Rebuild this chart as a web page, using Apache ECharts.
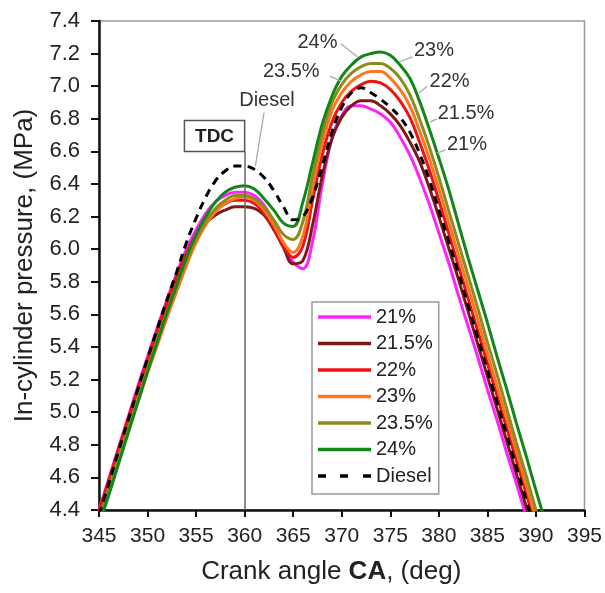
<!DOCTYPE html>
<html>
<head>
<meta charset="utf-8">
<script src="https://cdn.jsdelivr.net/npm/echarts@6/dist/echarts.min.js"></script>
<style>html,body{margin:0;padding:0;background:#fff}#c{width:605px;height:593px}</style>
</head>
<body>
<div id="c"></div>
<script>
// Crank angle (deg)
const angles = [345,346,347,348,349,350,351,352,353,354,355,356,357,358,359,360,361,362,363,364,365,366,367,368,369,370,371,372,373,374,375,376,377,378,379,380,381,382,383,384,385,386,387,388,389,390,391];
// In-cylinder pressure (MPa)
const p21   = [4.40,4.59,4.78,4.97,5.16,5.34,5.52,5.69,5.85,6.00,6.12,6.22,6.29,6.33,6.35,6.35,6.33,6.27,6.16,6.03,5.92,5.88,6.05,6.40,6.68,6.82,6.88,6.88,6.86,6.83,6.78,6.69,6.58,6.44,6.28,6.10,5.92,5.72,5.53,5.34,5.14,4.95,4.75,4.56,4.36,4.16,3.96];
const p215  = [4.38,4.57,4.76,4.95,5.14,5.32,5.50,5.67,5.83,5.97,6.08,6.16,6.21,6.24,6.26,6.26,6.25,6.21,6.12,6.01,5.91,5.93,6.15,6.45,6.68,6.81,6.88,6.91,6.91,6.88,6.83,6.76,6.66,6.54,6.38,6.20,6.01,5.82,5.62,5.42,5.22,5.02,4.82,4.62,4.42,4.22,4.02];
const p22   = [4.39,4.58,4.77,4.96,5.14,5.32,5.50,5.67,5.83,5.97,6.09,6.18,6.24,6.28,6.30,6.30,6.28,6.22,6.13,6.02,5.95,6.02,6.30,6.58,6.78,6.90,6.97,7.01,7.03,7.02,6.98,6.91,6.81,6.66,6.49,6.30,6.10,5.90,5.70,5.50,5.30,5.10,4.90,4.70,4.50,4.30,4.10];
const p23   = [4.33,4.51,4.70,4.88,5.06,5.24,5.41,5.58,5.74,5.90,6.04,6.15,6.23,6.28,6.31,6.32,6.30,6.24,6.15,6.04,5.98,6.08,6.38,6.65,6.85,6.96,7.03,7.07,7.09,7.09,7.05,6.98,6.88,6.73,6.56,6.37,6.17,5.97,5.77,5.57,5.36,5.16,4.96,4.76,4.55,4.35,4.15];
const p235  = [4.34,4.53,4.72,4.90,5.08,5.26,5.44,5.61,5.77,5.93,6.06,6.17,6.25,6.30,6.33,6.33,6.31,6.26,6.18,6.09,6.06,6.17,6.45,6.71,6.90,7.01,7.08,7.12,7.14,7.14,7.11,7.05,6.95,6.80,6.63,6.44,6.24,6.04,5.84,5.64,5.43,5.23,5.02,4.81,4.61,4.40,4.20];
const p24   = [4.31,4.49,4.68,4.87,5.06,5.25,5.43,5.61,5.78,5.95,6.09,6.20,6.29,6.35,6.38,6.39,6.37,6.31,6.24,6.16,6.14,6.29,6.53,6.77,6.94,7.06,7.13,7.18,7.20,7.21,7.19,7.13,7.05,6.91,6.74,6.56,6.37,6.16,5.95,5.75,5.55,5.34,5.14,4.93,4.73,4.52,4.32];
const pDiesel = [4.37,4.56,4.76,4.95,5.14,5.33,5.51,5.69,5.86,6.04,6.19,6.32,6.42,6.48,6.51,6.51,6.49,6.44,6.36,6.26,6.18,6.20,6.32,6.51,6.72,6.87,6.96,6.99,6.96,6.92,6.87,6.81,6.72,6.59,6.43,6.24,6.05,5.86,5.66,5.46,5.26,5.06,4.86,4.66,4.46,4.26,4.06];

const seriesNames = ['21%','21.5%','22%','23%','23.5%','24%','Diesel'];
const seriesValues = [p21,p215,p22,p23,p235,p24,pDiesel];
const seriesColors = ['#ff22ff','#7b1a1a','#f01212','#ff7420','#8c8c1c','#13861a','#000000'];

const yTicks = {min:4.4, max:7.4, step:0.2};
const xTicks = {min:345, max:395, step:5};

// annotation texts (positions given in data units in the layout below)
const noteTexts = ['24%','23.5%','Diesel','23%','22%','21.5%','21%'];
const layoutNotes = {
  at:   [[367.5,7.27],[364.8,7.09],[362.3,6.91],[379.5,7.22],[381.1,7.03],[382.8,6.83],[382.9,6.64]],
  lead: [[[369.9,7.26],[371.6,7.18]],[[368.8,7.06],[370.0,7.03]],[[362.0,6.84],[361.1,6.51]],
         [[377.3,7.18],[376.0,7.15]],[[378.8,7.00],[378.0,6.96]],[[379.8,6.80],[379.1,6.78]],[[380.7,6.61],[379.8,6.59]]],
  tdcBox: [[353.8,6.79],[360,6.60]]
};

const FONT = "'Liberation Sans', Arial, sans-serif";
const chart = echarts.init(document.getElementById('c'));

const series = seriesNames.map((n,i)=>({
  name:n, type:'line', smooth:0.4, showSymbol:false, symbol:'none', clip:true,
  z: i===6 ? 5 : 3,
  data: angles.map((a,j)=>[a, seriesValues[i][j]]),
  lineStyle:{color:seriesColors[i], width:3, type: n==='Diesel' ? [8,6] : 'solid'},
  itemStyle:{color:seriesColors[i]}
}));
series[0].markLine = {
  silent:true, symbol:'none', animation:false, label:{show:false},
  lineStyle:{color:'#666', width:1.5, type:'solid'},
  data:[[{coord:[360,4.4]},{coord:[360,6.6]}]]
};

const dashIcon = 'path://M0,0h8v4h-8z M22,0h8v4h-8z M45,0h8v4h-8z';

chart.setOption({
  animation:false,
  backgroundColor:'#fff',
  textStyle:{fontFamily:FONT},
  grid:{left:99, right:17, top:21, bottom:83, show:true, borderColor:'#999', borderWidth:1.5, backgroundColor:'transparent'},
  xAxis:{
    type:'value', min:xTicks.min, max:xTicks.max, interval:xTicks.step,
    name:'{n|Crank angle }{b|CA}{n|, (deg)}', nameLocation:'middle', nameGap:49,
    nameTextStyle:{color:'#222', fontSize:26, padding:[0,21,0,0],
      rich:{n:{fontSize:26,color:'#222',fontFamily:FONT}, b:{fontSize:26,fontWeight:'bold',color:'#222',fontFamily:FONT}}},
    axisLine:{lineStyle:{color:'#111', width:2.5}},
    axisTick:{inside:false, length:7, lineStyle:{color:'#111', width:2}},
    axisLabel:{color:'#222', fontSize:21, margin:16, fontFamily:FONT},
    splitLine:{show:false}
  },
  yAxis:{
    type:'value', min:yTicks.min, max:yTicks.max, interval:yTicks.step,
    name:'In-cylinder pressure, (MPa)', nameLocation:'middle', nameGap:61,
    nameTextStyle:{color:'#222', fontSize:26, fontFamily:FONT},
    axisLine:{lineStyle:{color:'#111', width:2.5}},
    axisTick:{inside:false, length:8, lineStyle:{color:'#111', width:2}},
    axisLabel:{color:'#222', fontSize:22, margin:19, fontFamily:FONT, formatter:v=>v.toFixed(1)},
    splitLine:{show:false}
  },
  legend:{
    orient:'vertical', left:312, top:302,
    data:seriesNames.map(n=>({name:n, icon: n==='Diesel' ? dashIcon : 'rect'})),
    itemWidth:53, itemHeight:3.5, itemGap:6.5, symbolKeepAspect:false,
    padding:[5,6,8,6],
    borderColor:'#999', borderWidth:1.5, backgroundColor:'#fff',
    textStyle:{color:'#222', fontSize:20, fontFamily:FONT, padding:[0,0,0,0]},
    selectedMode:false
  },
  series:series
});

function px(p){ return chart.convertToPixel({gridIndex:0}, p); }
const g = [];
noteTexts.forEach((t,i)=>{
  const a = px(layoutNotes.lead[i][0]), b = px(layoutNotes.lead[i][1]);
  g.push({type:'line', z:10, shape:{x1:a[0],y1:a[1],x2:b[0],y2:b[1]}, style:{stroke:'#aaa', lineWidth:1.3}});
  const c = px(layoutNotes.at[i]);
  g.push({type:'text', z:11, x:c[0], y:c[1], style:{text:t, fill:'#333', font:'20px '+FONT, align:'center', verticalAlign:'middle'}});
});
const b0 = px(layoutNotes.tdcBox[0]), b1 = px(layoutNotes.tdcBox[1]);
g.push({type:'rect', z:10, shape:{x:b0[0], y:b0[1], width:b1[0]-b0[0], height:b1[1]-b0[1]}, style:{fill:'#fff', stroke:'#555', lineWidth:1.5}});
g.push({type:'text', z:11, x:(b0[0]+b1[0])/2, y:(b0[1]+b1[1])/2+1, style:{text:'TDC', fill:'#222', font:'bold 19px '+FONT, align:'center', verticalAlign:'middle'}});
chart.setOption({graphic:g});
</script>
</body>
</html>
